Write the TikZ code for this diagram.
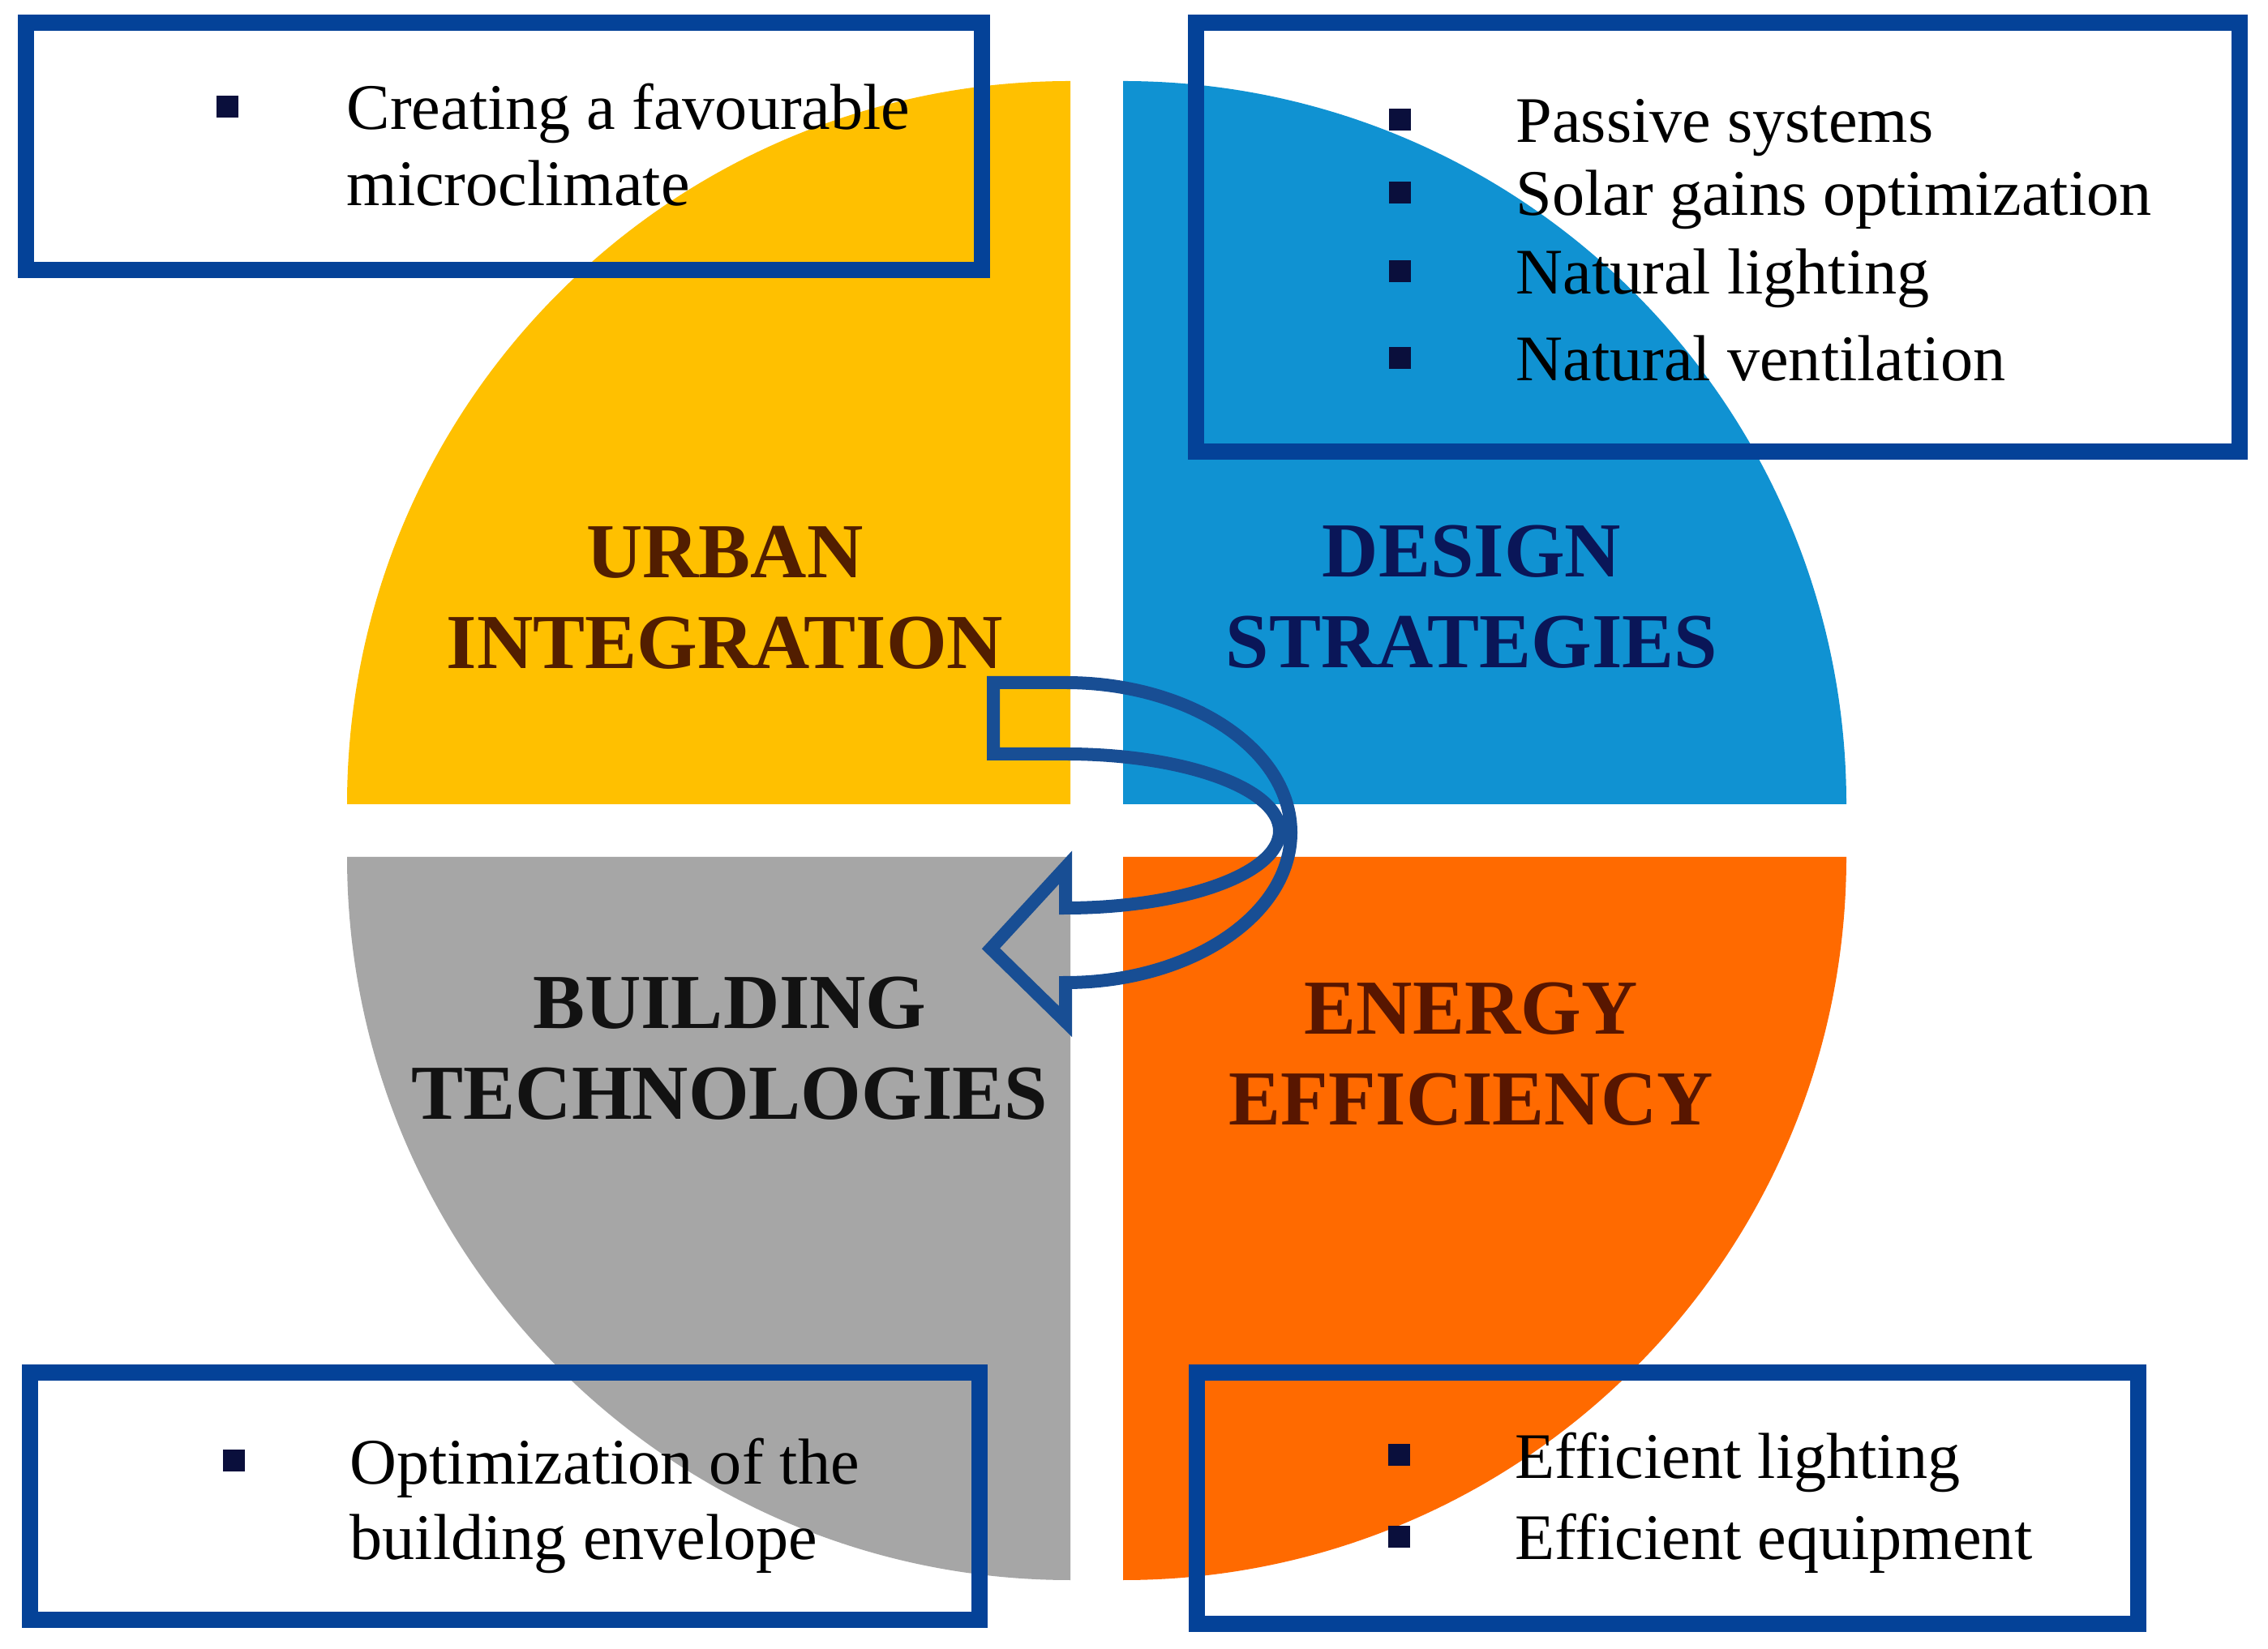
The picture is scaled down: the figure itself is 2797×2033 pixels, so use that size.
\documentclass[tikz,border=0pt]{standalone}
\usepackage{fontspec}
\setmainfont{Liberation Serif}
\usetikzlibrary{positioning}

\definecolor{urbanyellow}{RGB}{255,192,0}
\definecolor{designblue}{RGB}{16,146,210}
\definecolor{buildgray}{RGB}{166,166,166}
\definecolor{energyorange}{RGB}{255,106,0}
\definecolor{boxblue}{RGB}{4,66,152}
\definecolor{arrowblue}{RGB}{24,78,148}
\definecolor{bulletnavy}{RGB}{10,15,60}
\definecolor{urbantext}{RGB}{82,30,0}
\definecolor{designtext}{RGB}{10,22,88}
\definecolor{buildtext}{RGB}{18,18,18}
\definecolor{energytext}{RGB}{88,22,0}

\tikzset{
  infobox/.style={draw=boxblue, line width=0.2cm, inner sep=0pt},
  itemtext/.style={inner sep=0pt, text height=0.56cm, text depth=0pt, font=\fontsize{22.8}{27}\selectfont, text=black},
  bulletsq/.style={fill=bulletnavy, minimum size=0.27cm, inner sep=0pt},
  quadlabel/.style={align=center, inner sep=0pt, font=\fontsize{27.3}{31.9}\selectfont\bfseries},
}

\begin{document}
\begin{tikzpicture}[x=0.01cm, y=0.01cm]
    \fill[white] (0,0) rectangle (2797,2033);
    % the four quarters
    \fill[urbanyellow] (1320,1041) -- ++(-892,0) arc[start angle=180, end angle=90, radius=892] -- cycle;
    \fill[designblue] (1385,1041) -- ++(0,892) arc[start angle=90, end angle=0, radius=892] -- cycle;
    \fill[buildgray] (1320,976) -- ++(-892,0) arc[start angle=180, end angle=270, radius=892] -- cycle;
    \fill[energyorange] (1385,976) -- ++(892,0) arc[start angle=0, end angle=-90, radius=892] -- cycle;
    % quarter labels
    \node (urban) [quadlabel, text=urbantext] at (894,1296) {URBAN\\INTEGRATION};
    \node (design) [quadlabel, text=designtext] at (1815,1297) {DESIGN\\STRATEGIES};
    \node (building) [quadlabel, text=buildtext] at (900,740) {BUILDING\\TECHNOLOGIES};
    \node (energy) [quadlabel, text=energytext] at (1814,733) {ENERGY\\EFFICIENCY};
    % curved arrow
    \draw[arrowblue, line width=0.16cm] (1225,1191) -- (1314,1191)
        arc[start angle=90, end angle=-90, x radius=278, y radius=185]
        -- (1314,773) -- (1222,863) -- (1314,963) -- (1314,913)
        arc[start angle=-90, end angle=90, x radius=264, y radius=95]
        -- (1225,1103) -- cycle;
    % boxes
    \node (urbanbox) [infobox, minimum width=11.79cm, minimum height=3.05cm] at (621.5,1852.5) {};
    \node (designbox) [infobox, minimum width=12.87cm, minimum height=5.29cm] at (2118.5,1740.5) {};
    \node (buildbox) [infobox, minimum width=11.71cm, minimum height=3.05cm] at (622.5,187.5) {};
    \node (energybox) [infobox, minimum width=11.61cm, minimum height=3.1cm] at (2056.5,185) {};
    % urban items
    \node (ucreating) [itemtext, anchor=base west] at (427,1873) {Creating a favourable};
    \node (umicro) [itemtext, below=0.36cm of ucreating.south west, anchor=north west] {microclimate};
    \node (ubullet) [bulletsq, left=1.32cm of ucreating] {};
    % design items
    \node (dpassive) [itemtext, anchor=base west] at (1869,1857) {Passive systems};
    \node (dsolar) [itemtext, below=0.32cm of dpassive.south west, anchor=north west] {Solar gains optimization};
    \node (dlighting) [itemtext, below=0.40cm of dsolar.south west, anchor=north west] {Natural lighting};
    \node (dventilation) [itemtext, below=0.49cm of dlighting.south west, anchor=north west] {Natural ventilation};
    \node (dbullet1) [bulletsq, left=1.28cm of dpassive] {};
    \node (dbullet2) [bulletsq, left=1.28cm of dsolar] {};
    \node (dbullet3) [bulletsq, left=1.28cm of dlighting] {};
    \node (dbullet4) [bulletsq, left=1.28cm of dventilation] {};
    % building items
    \node (boptim) [itemtext, anchor=base west] at (431,203) {Optimization of the};
    \node (benvelope) [itemtext, below=0.36cm of boptim.south west, anchor=north west] {building envelope};
    \node (bbullet) [bulletsq, left=1.28cm of boptim] {};
    % energy items
    \node (elighting) [itemtext, anchor=base west] at (1868,210) {Efficient lighting};
    \node (eequip) [itemtext, below=0.43cm of elighting.south west, anchor=north west] {Efficient equipment};
    \node (ebullet1) [bulletsq, left=1.28cm of elighting] {};
    \node (ebullet2) [bulletsq, left=1.28cm of eequip] {};
\end{tikzpicture}
\end{document}
